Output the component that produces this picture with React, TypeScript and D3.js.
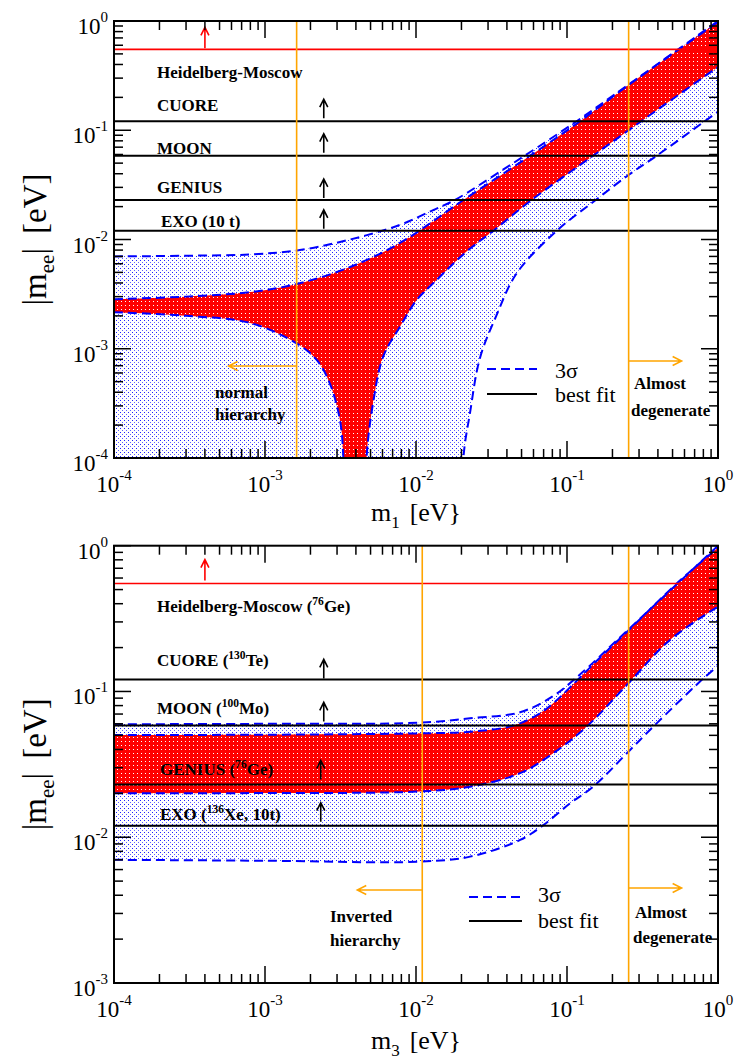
import React from "react";
import * as d3 from "d3";

type Pt = [number, number];
type Seg = { t: string; sup?: boolean };

// |m_ee| = 0 is drawn at this value (below the visible axis range)
const FLOOR = 1e-5;

// ---------- Normal hierarchy (x = m1) ----------
const nhUpper3s: Pt[] = [
  [1e-4, 0.007], [3e-4, 0.0071], [8e-4, 0.0073], [1.7e-3, 0.008], [3.66e-3, 0.01],
  [7.83e-3, 0.0136], [0.013, 0.0186], [0.0181, 0.023], [0.036, 0.0418], [0.0525, 0.0585],
  [0.1158, 0.121], [0.256, 0.262], [1, 1.0],
];
const nhLower3s: Pt[] = [
  [0.0203, FLOOR], [0.0206, 1e-4], [0.0228, 2.6e-4], [0.0265, 8.2e-4], [0.034, 0.002],
  [0.0464, 0.0049], [0.0855, 0.012], [0.155, 0.023], [0.256, 0.039], [0.393, 0.0585], [1, 0.148],
];
const nhUpperBest: Pt[] = [
  [1e-4, 0.00284], [3e-4, 0.003], [8e-4, 0.0033], [1.6e-3, 0.0039], [3.66e-3, 0.0056],
  [7.83e-3, 0.0093], [2.06e-2, 0.023], [5.7e-2, 0.0585], [0.122, 0.121], [0.256, 0.26], [1, 0.98],
];
const nhLowerBest: Pt[] = [
  [1e-4, 0.00216], [3e-4, 0.002], [8e-4, 0.00172], [1.62e-3, 0.00112], [2.2e-3, 7.9e-4],
  [2.69e-3, 4.8e-4], [3.14e-3, 2.2e-4], [3.3e-3, 1.03e-4], [3.42e-3, FLOOR],
  [4.55e-3, FLOOR], [4.71e-3, 1.03e-4], [5.2e-3, 3.2e-4], [6.07e-3, 8.5e-4],
  [7.83e-3, 1.59e-3], [1.01e-2, 2.79e-3], [1.3e-2, 3.97e-3], [2.17e-2, 7.8e-3],
  [3.25e-2, 0.012], [5.83e-2, 0.023], [0.149, 0.0585], [0.256, 0.1], [1, 0.38],
];

// ---------- Inverted hierarchy (x = m3) ----------
const ihUpper3s: Pt[] = [
  [1e-4, 0.0596], [1e-3, 0.06], [0.0106, 0.0611], [0.0228, 0.0655], [0.0489, 0.072],
  [0.081, 0.093], [0.116, 0.125], [0.255, 0.266], [1, 1.0],
];
const ihLower3s: Pt[] = [
  [1e-4, 0.007], [1e-3, 0.0069], [0.0106, 0.0068], [0.0228, 0.00736], [0.0489, 0.00958],
  [0.0697, 0.0121], [0.105, 0.0171], [0.149, 0.0222], [0.255, 0.0386], [0.373, 0.0574],
  [0.76, 0.117], [1, 0.15],
];
const ihUpperBest: Pt[] = [
  [1e-4, 0.0503], [1e-3, 0.0505], [0.0106, 0.0516], [0.0228, 0.053], [0.0442, 0.0583],
  [0.065, 0.07], [0.081, 0.083], [0.11, 0.112], [0.16, 0.165], [0.255, 0.262], [0.532, 0.55], [1, 0.97],
];
const ihLowerBest: Pt[] = [
  [1e-4, 0.02], [1e-3, 0.0201], [0.0106, 0.0206], [0.0228, 0.0222], [0.0489, 0.0275],
  [0.0811, 0.0377], [0.135, 0.0574], [0.255, 0.1138], [0.481, 0.2256], [1, 0.382],
];

// ---------- Experimental sensitivities ----------
const expBounds = [0.55, 0.121, 0.0585, 0.023, 0.012];
const nhLabels: Seg[][] = [
  [{ t: "Heidelberg-Moscow" }],
  [{ t: "CUORE" }],
  [{ t: "MOON" }],
  [{ t: "GENIUS" }],
  [{ t: "EXO (10 t)" }],
];
const ihLabels: Seg[][] = [
  [{ t: "Heidelberg-Moscow (" }, { t: "76", sup: true }, { t: "Ge)" }],
  [{ t: "CUORE (" }, { t: "130", sup: true }, { t: "Te)" }],
  [{ t: "MOON (" }, { t: "100", sup: true }, { t: "Mo)" }],
  [{ t: "GENIUS (" }, { t: "76", sup: true }, { t: "Ge)" }],
  [{ t: "EXO (" }, { t: "136", sup: true }, { t: "Xe, 10t)" }],
];
const redArrowM = 4e-4;
const nhArrowM = [0.00245, 0.00245, 0.00245, 0.00245];
const ihArrowM = [0.00245, 0.00245, 0.00234, 0.00234];

const nhHierBound = 0.00162;
const ihHierBound = 0.011;
const degBound = 0.256;

const xDomain: [number, number] = [1e-4, 1];
const nhYDomain: [number, number] = [1e-4, 1];
const ihYDomain: [number, number] = [1e-3, 1];

const BLUE = "#0000ff";
const ORANGE = "#ffa500";
const FONT = "'Liberation Serif','Times New Roman',serif";

type PanelProps = {
  id: string;
  top: number;
  bottom: number;
  yDomain: [number, number];
  upper3s: Pt[];
  lower3s: Pt[];
  upperBest: Pt[];
  lowerBest: Pt[];
  labels: Seg[][];
  labelPos: { x: number; y: number }[];
  arrowMs: number[];
  arrowGap: number[];
  redArrowGap: number;
  hierBound: number;
  hierText: string[];
  hierTextPos: { x: number; y: number }[];
  hierArrowY: number;
  hierArrowLen: number;
  degTextPos: { x: number; y: number }[];
  degArrowY: number;
  legend: { x0: number; x1: number; y1: number; y2: number; tx: number; ty1: number; ty2: number };
  xSub: string;
  xTitleY: number;
};

const L = 114;
const R = 718;

function isMajor(v: number) {
  const l = Math.log10(v);
  return Math.abs(l - Math.round(l)) < 1e-9;
}

function Label({ segs, x, y, size }: { segs: Seg[]; x: number; y: number; size: number }) {
  let shifted = false;
  return (
    <text x={x} y={y} fontSize={size} fontWeight="bold" fill="#000">
      {segs.map((s, i) => {
        let dy = 0;
        if (s.sup && !shifted) { dy = -7; shifted = true; }
        else if (!s.sup && shifted) { dy = 7; shifted = false; }
        return (
          <tspan key={i} dy={dy} fontSize={s.sup ? size * 0.68 : size}>
            {s.t}
          </tspan>
        );
      })}
    </text>
  );
}

function Panel(p: PanelProps) {
  const x = d3.scaleLog().domain(xDomain).range([L, R]);
  const y = d3.scaleLog().domain(p.yDomain).range([p.bottom, p.top]);
  const line = d3
    .line<Pt>()
    .x((d) => x(d[0]))
    .y((d) => y(d[1]))
    .curve(d3.curveCatmullRom.alpha(0.5));

  const region = (up: Pt[], lo: Pt[]) => {
    let d = line(up)! + line([...lo].reverse())!.replace(/^M/, "L");
    if (lo[0][0] > up[0][0]) d += `L${x(up[0][0])},${y(lo[0][1])}`;
    return d + "Z";
  };

  const xt = x.ticks();
  const yt = y.ticks();
  const clip = `clip-${p.id}`;
  const dash = "9,5";

  const arrow = (ax: number, y0: number, len: number, color: string, key: string) => (
    <path
      key={key}
      d={`M${ax},${y0}V${y0 - len}M${ax - 4},${y0 - len + 8}L${ax},${y0 - len}L${ax + 4},${y0 - len + 8}`}
      stroke={color}
      strokeWidth={1.6}
      fill="none"
    />
  );
  const hArrow = (x0: number, x1: number, yy: number) => {
    const s = Math.sign(x1 - x0);
    return (
      <path
        d={`M${x0},${yy}H${x1}M${x1 - s * 9},${yy - 4.5}L${x1},${yy}L${x1 - s * 9},${yy + 4.5}`}
        stroke={ORANGE}
        strokeWidth={1.5}
        fill="none"
      />
    );
  };

  const yLabel = (v: number) => Math.round(Math.log10(v));
  const cy = (p.top + p.bottom) / 2;

  return (
    <g>
      <defs>
        <clipPath id={clip}>
          <rect x={L} y={p.top} width={R - L} height={p.bottom - p.top} />
        </clipPath>
      </defs>
      <g clipPath={`url(#${clip})`}>
        <path d={region(p.upper3s, p.lower3s)} fill="url(#blueDots)" />
        <path d={region(p.upperBest, p.lowerBest)} fill="url(#redDots)" />
        {[p.upper3s, p.lower3s, p.upperBest, p.lowerBest].map((s, i) => (
          <path key={i} d={line(s)!} fill="none" stroke={BLUE} strokeWidth={2} strokeDasharray={dash} />
        ))}
        {expBounds.map((v, i) => (
          <line
            key={i}
            x1={L}
            x2={R}
            y1={y(v)}
            y2={y(v)}
            stroke={i === 0 ? "#ff0000" : "#000"}
            strokeWidth={i === 0 ? 1.6 : 2}
          />
        ))}
        <line x1={x(p.hierBound)} x2={x(p.hierBound)} y1={p.top} y2={p.bottom} stroke={ORANGE} strokeWidth={1.6} />
        <line x1={x(degBound)} x2={x(degBound)} y1={p.top} y2={p.bottom} stroke={ORANGE} strokeWidth={1.6} />
      </g>

      {arrow(x(redArrowM), y(expBounds[0]) - p.redArrowGap, 21, "#ff0000", "ra")}
      {p.arrowMs.map((m, i) => arrow(x(m), y(expBounds[i + 1]) - p.arrowGap[i], 19, "#000", "a" + i))}

      {p.labels.map((segs, i) => (
        <Label key={i} segs={segs} x={p.labelPos[i].x} y={p.labelPos[i].y} size={17} />
      ))}

      {hArrow(x(p.hierBound), x(p.hierBound) - p.hierArrowLen, p.hierArrowY)}
      {hArrow(x(degBound), x(degBound) + 53, p.degArrowY)}
      {p.hierText.map((t, i) => (
        <text key={i} x={p.hierTextPos[i].x} y={p.hierTextPos[i].y} fontSize={17} fontWeight="bold">
          {t}
        </text>
      ))}
      {["Almost", "degenerate"].map((t, i) => (
        <text key={i} x={p.degTextPos[i].x} y={p.degTextPos[i].y} fontSize={17} fontWeight="bold">
          {t}
        </text>
      ))}

      {/* legend */}
      <line x1={p.legend.x0} x2={p.legend.x1} y1={p.legend.y1} y2={p.legend.y1} stroke={BLUE} strokeWidth={2} strokeDasharray="9,5" />
      <line x1={p.legend.x0} x2={p.legend.x1} y1={p.legend.y2} y2={p.legend.y2} stroke="#000" strokeWidth={2} />
      <text x={p.legend.tx} y={p.legend.ty1} fontSize={22}>3σ</text>
      <text x={p.legend.tx} y={p.legend.ty2} fontSize={22}>best fit</text>

      {/* frame and ticks */}
      <rect x={L} y={p.top} width={R - L} height={p.bottom - p.top} fill="none" stroke="#000" strokeWidth={2} />
      {xt.map((t, i) => {
        const len = isMajor(t) ? 17 : 9;
        const xx = x(t);
        return (
          <g key={"xt" + i}>
            <line x1={xx} x2={xx} y1={p.bottom} y2={p.bottom - len} stroke="#000" strokeWidth={1.5} />
            <line x1={xx} x2={xx} y1={p.top} y2={p.top + len} stroke="#000" strokeWidth={1.5} />
          </g>
        );
      })}
      {yt.map((t, i) => {
        const len = isMajor(t) ? 17 : 9;
        const yy = y(t);
        return (
          <g key={"yt" + i}>
            <line x1={L} x2={L + len} y1={yy} y2={yy} stroke="#000" strokeWidth={1.5} />
            <line x1={R} x2={R - len} y1={yy} y2={yy} stroke="#000" strokeWidth={1.5} />
          </g>
        );
      })}
      {xt.filter(isMajor).map((t, i) => (
        <text key={"xl" + i} x={x(t)} y={p.bottom + 34} textAnchor="middle" fontSize={23}>
          <tspan>10</tspan>
          <tspan dy={-12} fontSize={15}>{yLabel(t)}</tspan>
        </text>
      ))}
      {yt.filter(isMajor).map((t, i) => (
        <text key={"yl" + i} x={108} y={y(t) + 13} textAnchor="end" fontSize={23}>
          <tspan>10</tspan>
          <tspan dy={-12} fontSize={15}>{yLabel(t)}</tspan>
        </text>
      ))}

      {/* axis titles */}
      <text x={(L + R) / 2} y={p.xTitleY} textAnchor="middle" fontSize={26}>
        <tspan>m</tspan>
        <tspan dy={7} fontSize={17}>{p.xSub}</tspan>
        <tspan dy={-7} dx={10}>{"[eV}"}</tspan>
      </text>
      <text transform={`translate(46,${cy}) rotate(-90)`} textAnchor="middle" fontSize={33}>
        <tspan>|m</tspan>
        <tspan dy={8} fontSize={21}>ee</tspan>
        <tspan dy={-8}>|</tspan>
        <tspan dx={14}>[eV]</tspan>
      </text>
    </g>
  );
}

export default function App() {
  return (
    <svg
      width={740}
      height={1060}
      style={{ position: "absolute", left: 0, top: 0, display: "block" }}
      fontFamily={FONT}
    >
      <defs>
        <pattern id="blueDots" patternUnits="userSpaceOnUse" width={4} height={4}>
          <rect width={4} height={4} fill="#ffffff" shapeRendering="crispEdges" />
          <rect x={0} y={0} width={1} height={1} fill="#2020ff" shapeRendering="crispEdges" />
          <rect x={2} y={2} width={1} height={1} fill="#6060ff" shapeRendering="crispEdges" />
        </pattern>
        <pattern id="redDots" patternUnits="userSpaceOnUse" width={4} height={4}>
          <rect width={4} height={4} fill="#ff0000" shapeRendering="crispEdges" />
          <rect x={1} y={1} width={1} height={1} fill="#ffffff" shapeRendering="crispEdges" />
        </pattern>
      </defs>
      <rect width={740} height={1060} fill="#fff" />
      <Panel
        id="nh"
        top={21}
        bottom={458}
        yDomain={nhYDomain}
        upper3s={nhUpper3s}
        lower3s={nhLower3s}
        upperBest={nhUpperBest}
        lowerBest={nhLowerBest}
        labels={nhLabels}
        labelPos={[
          { x: 157, y: 78 },
          { x: 157, y: 111 },
          { x: 157, y: 154 },
          { x: 157, y: 193 },
          { x: 161, y: 227 },
        ]}
        arrowMs={nhArrowM}
        arrowGap={[3, 3, 2, 2]}
        redArrowGap={1}
        hierBound={nhHierBound}
        hierText={["normal", "hierarchy"]}
        hierTextPos={[
          { x: 215, y: 398 },
          { x: 215, y: 420 },
        ]}
        hierArrowY={366}
        hierArrowLen={68}
        degTextPos={[
          { x: 634, y: 389 },
          { x: 631, y: 416 },
        ]}
        degArrowY={361}
        legend={{ x0: 487, x1: 537, y1: 369, y2: 394, tx: 555, ty1: 378, ty2: 402 }}
        xSub="1"
        xTitleY={521}
      />
      <Panel
        id="ih"
        top={545.7}
        bottom={983}
        yDomain={ihYDomain}
        upper3s={ihUpper3s}
        lower3s={ihLower3s}
        upperBest={ihUpperBest}
        lowerBest={ihLowerBest}
        labels={ihLabels}
        labelPos={[
          { x: 157, y: 612 },
          { x: 157, y: 666 },
          { x: 157, y: 714 },
          { x: 160, y: 775 },
          { x: 160, y: 820 },
        ]}
        arrowMs={ihArrowM}
        arrowGap={[1, 4, 5, 4]}
        redArrowGap={3}
        hierBound={ihHierBound}
        hierText={["Inverted", "hierarchy"]}
        hierTextPos={[
          { x: 330, y: 922 },
          { x: 330, y: 946 },
        ]}
        hierArrowY={890}
        hierArrowLen={65}
        degTextPos={[
          { x: 635, y: 918 },
          { x: 633, y: 943 },
        ]}
        degArrowY={888}
        legend={{ x0: 469, x1: 522, y1: 897, y2: 921, tx: 538, ty1: 902, ty2: 928 }}
        xSub="3"
        xTitleY={1049}
      />
    </svg>
  );
}
